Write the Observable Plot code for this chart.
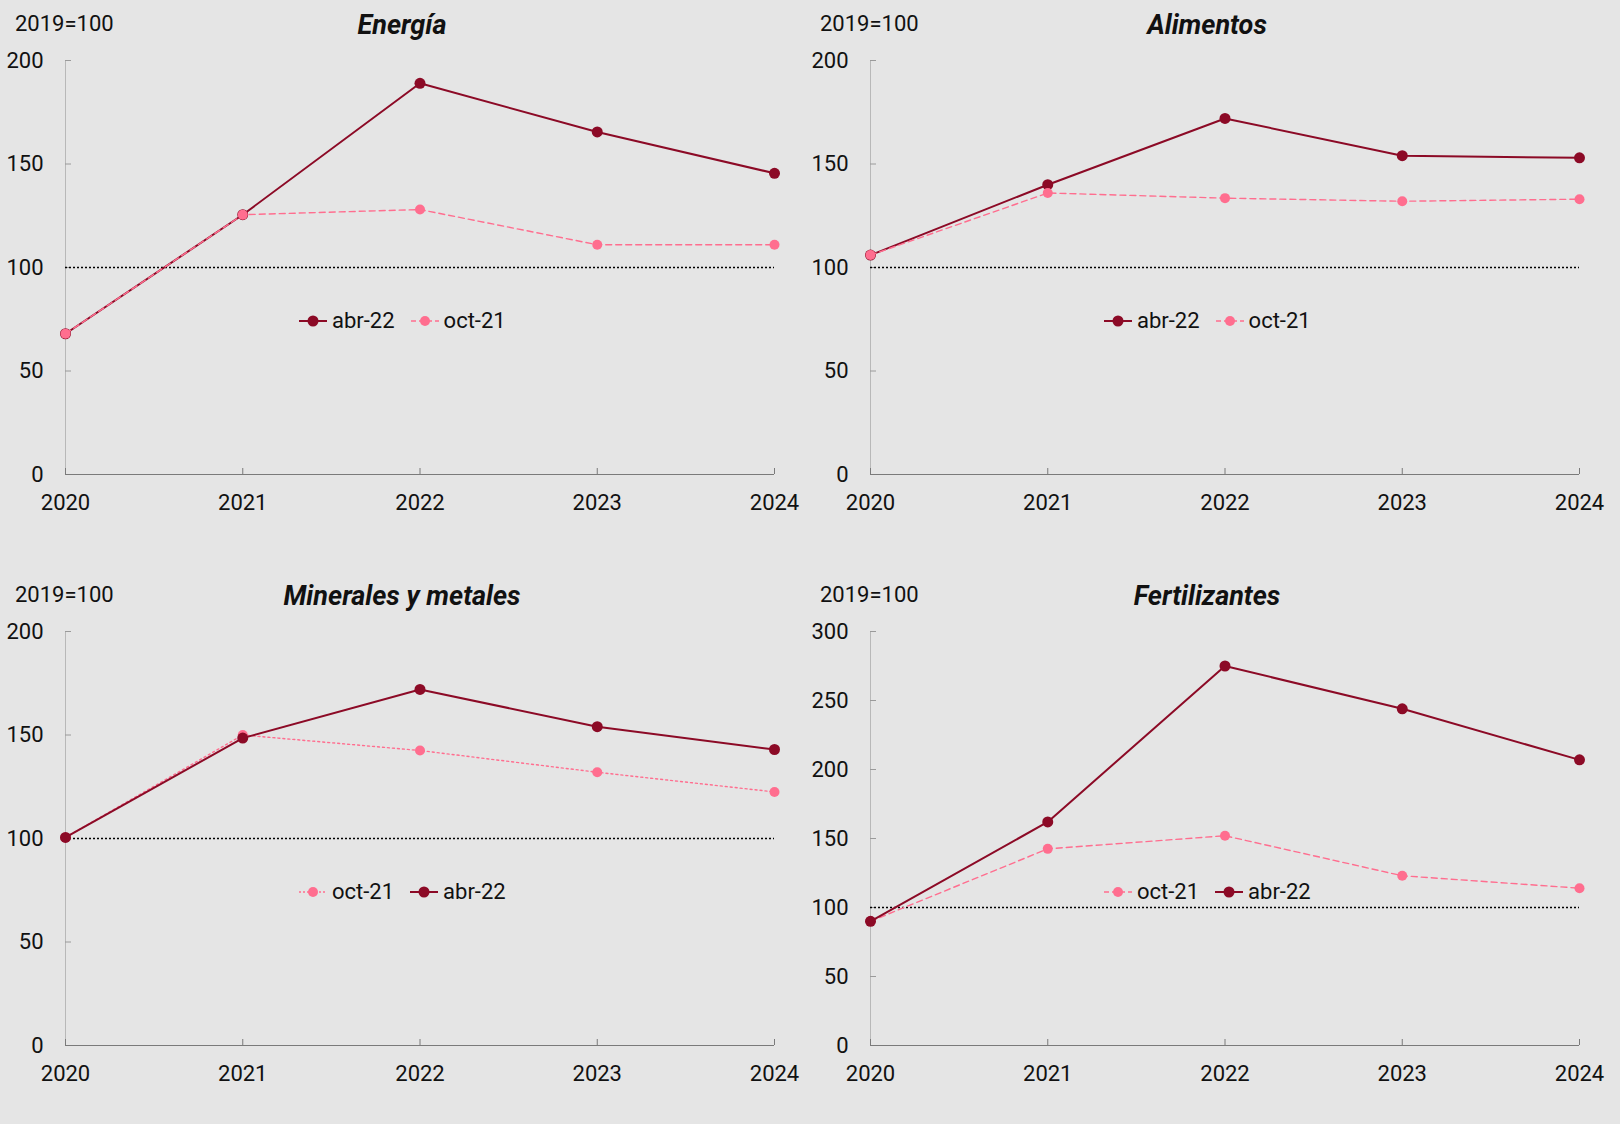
<!DOCTYPE html>
<html>
<head>
<meta charset="utf-8">
<script src="https://cdn.jsdelivr.net/npm/d3@7"></script>
<script src="https://cdn.jsdelivr.net/npm/@observablehq/plot@0.6"></script>
<style>
  html, body { margin: 0; padding: 0; background: #e5e5e5; }
  #root { position: relative; width: 1620px; height: 1124px; background: #e5e5e5; font-family: Roboto, "Noto Sans", sans-serif; color: #111; }
  .panel { position: absolute; width: 810px; height: 560px; }
  .panel svg { position: absolute; left: 0; top: 0; }
  .unit { position: absolute; left: 15px; top: 11px; font-size: 22px; line-height: 26px; }
  .title { position: absolute; left: 402px; top: 9px; transform: translateX(-50%); font-size: 27px; line-height: 32px; font-weight: bold; font-style: italic; white-space: nowrap; }
  .legend { position: absolute; left: 299px; top: 308px; display: flex; align-items: center; font-size: 22px; line-height: 26px; white-space: nowrap; }
  .legend .item { display: flex; align-items: center; margin-right: 16px; }
  .legend svg { position: static; margin-right: 5px; }
</style>
</head>
<body>
<div id="root"></div>
<script>
const years = [2020, 2021, 2022, 2023, 2024];

const energiaAbr22 = [68, 125.5, 189, 165.5, 145.5];
const energiaOct21 = [68, 125.5, 128, 111, 111];
const alimentosAbr22 = [106, 140, 172, 154, 153];
const alimentosOct21 = [106, 136, 133.5, 132, 133];
const mineralesAbr22 = [100.5, 148.5, 172, 154, 143];
const mineralesOct21 = [100.5, 150, 142.5, 132, 122.5];
const fertilizantesAbr22 = [90, 162, 275, 244, 207];
const fertilizantesOct21 = [90, 142.5, 152, 123, 114];

const ticks200 = [0, 50, 100, 150, 200];
const ticks300 = [0, 50, 100, 150, 200, 250, 300];

const DARK = "#8c0a26";
const PINK = "#ff6e8f";

const abr = (values) => ({name: "abr-22", values, color: DARK, dash: null, width: 2, r: 5.5});
const octDash = (values) => ({name: "oct-21", values, color: PINK, dash: "6,4", width: 1.4, r: 5});
const octDot = (values) => ({name: "oct-21", values, color: PINK, dash: "2,3", width: 1.4, r: 5});

const panels = [
  {title: "Energía", left: 0, top: 0, yTicks: ticks200, series: [abr(energiaAbr22), octDash(energiaOct21)]},
  {title: "Alimentos", left: 805, top: 0, yTicks: ticks200, series: [abr(alimentosAbr22), octDash(alimentosOct21)]},
  {title: "Minerales y metales", left: 0, top: 571, yTicks: ticks200, series: [octDot(mineralesOct21), abr(mineralesAbr22)]},
  {title: "Fertilizantes", left: 805, top: 571, yTicks: ticks300, series: [octDash(fertilizantesOct21), abr(fertilizantesAbr22)]}
];

const root = document.getElementById("root");
const W = 810, H = 540, MT = 60, MB = 66, ML = 65, MR = 36;
const FW = W - ML - MR, FH = H - MT - MB;

for (const p of panels) {
  const div = document.createElement("div");
  div.className = "panel";
  div.style.left = p.left + "px";
  div.style.top = p.top + "px";

  const marks = [
    Plot.ruleX([2020], {stroke: "#b8b8b8", strokeWidth: 1}),
    Plot.tickY(p.yTicks, {y: d => d, insetRight: FW - 6, stroke: "#9a9a9a", strokeWidth: 1}),
    Plot.ruleY([0], {stroke: "#7a7a7a", strokeWidth: 1}),
    Plot.tickX(years, {x: d => d, insetTop: FH - 6, stroke: "#7a7a7a", strokeWidth: 1}),
    Plot.ruleY([100], {x1: 2020, x2: 2024, stroke: "#000", strokeWidth: 1.4, strokeDasharray: "2,2"})
  ];
  for (const s of p.series) {
    const data = years.map((y, i) => ({year: y, value: s.values[i]}));
    marks.push(Plot.line(data, {x: "year", y: "value", stroke: s.color, strokeWidth: s.width, strokeDasharray: s.dash}));
    marks.push(Plot.dot(data, {x: "year", y: "value", r: s.r, fill: s.color, stroke: "none"}));
  }

  const chart = Plot.plot({
    width: W, height: H,
    marginTop: MT, marginBottom: MB, marginLeft: ML, marginRight: MR,
    style: {background: "transparent", fontFamily: "Roboto, 'Noto Sans', sans-serif", fontSize: "22px", color: "#111"},
    x: {domain: [2020, 2024], ticks: years, tickFormat: d => String(d), tickSize: 0, tickPadding: 20, label: null},
    y: {domain: [0, p.yTicks[p.yTicks.length - 1]], ticks: p.yTicks, tickSize: 0, tickPadding: 22, label: null},
    marks
  });
  div.appendChild(chart);

  const unit = document.createElement("div");
  unit.className = "unit";
  unit.textContent = "2019=100";
  div.appendChild(unit);

  const title = document.createElement("div");
  title.className = "title";
  title.textContent = p.title;
  div.appendChild(title);

  const legend = document.createElement("div");
  legend.className = "legend";
  for (const s of p.series) {
    const item = document.createElement("div");
    item.className = "item";
    const ns = "http://www.w3.org/2000/svg";
    const sw = document.createElementNS(ns, "svg");
    sw.setAttribute("width", "28");
    sw.setAttribute("height", "14");
    const ln = document.createElementNS(ns, "line");
    ln.setAttribute("x1", "0"); ln.setAttribute("x2", "28");
    ln.setAttribute("y1", "7"); ln.setAttribute("y2", "7");
    ln.setAttribute("stroke", s.color);
    ln.setAttribute("stroke-width", s.width);
    if (s.dash) ln.setAttribute("stroke-dasharray", s.dash === "2,3" ? "2,2" : "5,3");
    const c = document.createElementNS(ns, "circle");
    c.setAttribute("cx", "14"); c.setAttribute("cy", "7"); c.setAttribute("r", s.r);
    c.setAttribute("fill", s.color);
    sw.appendChild(ln); sw.appendChild(c);
    item.appendChild(sw);
    const t = document.createElement("span");
    t.textContent = s.name;
    item.appendChild(t);
    legend.appendChild(item);
  }
  div.appendChild(legend);

  root.appendChild(div);
}
</script>
</body>
</html>
